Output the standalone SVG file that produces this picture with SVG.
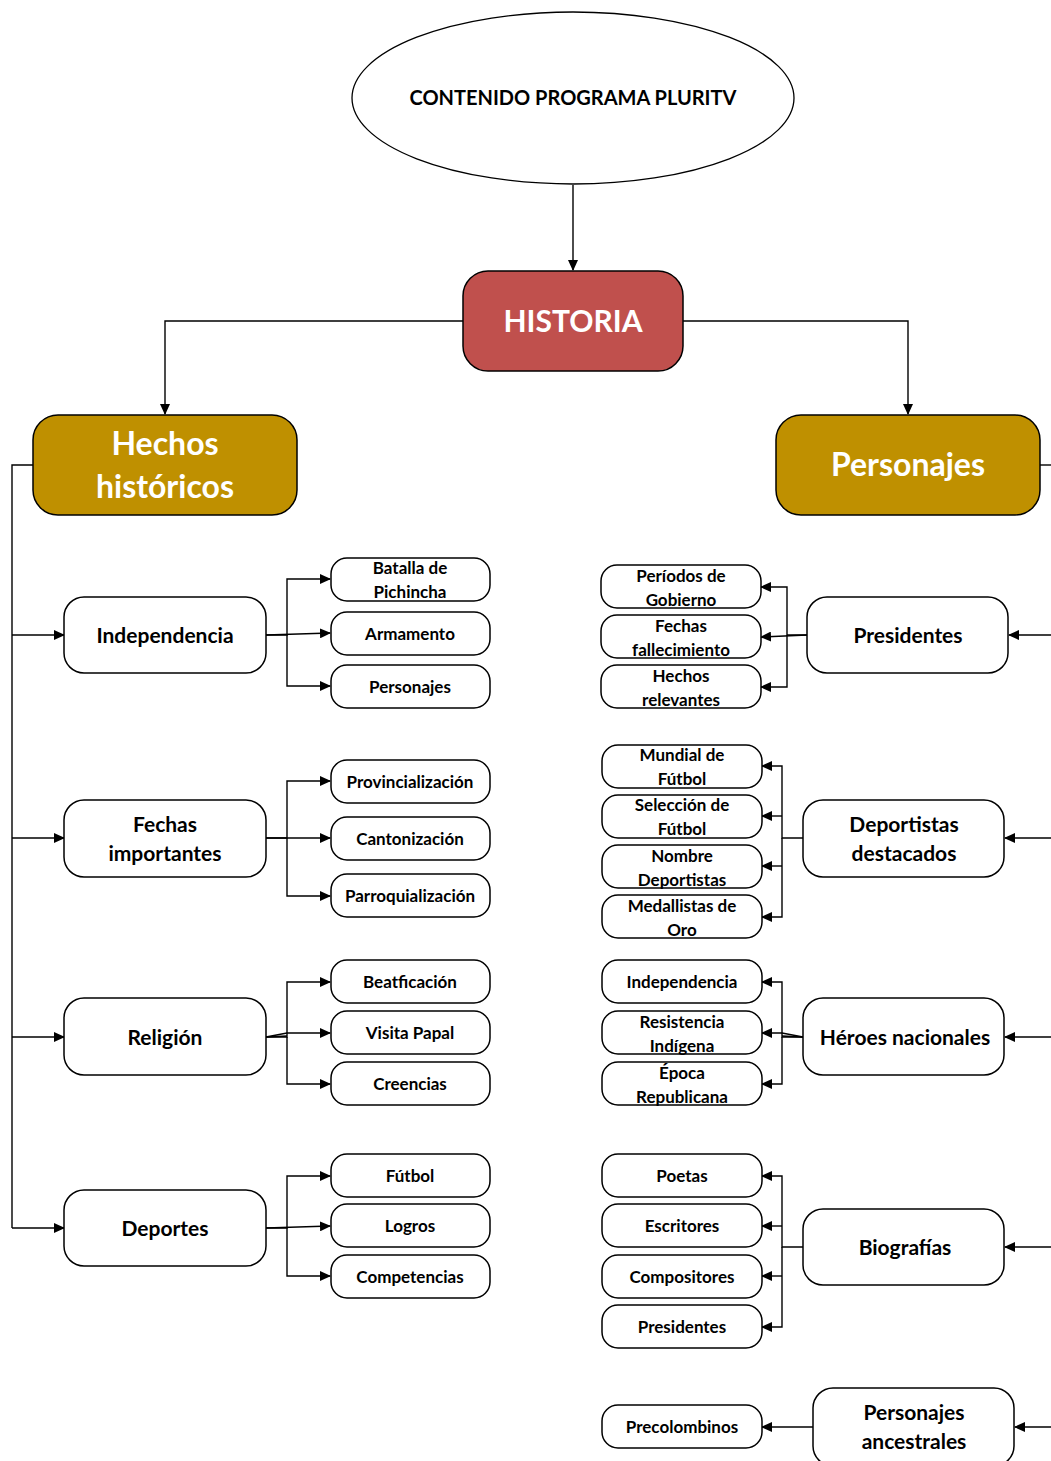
<svg xmlns="http://www.w3.org/2000/svg" width="1051" height="1461" viewBox="0 0 1051 1461">
<style>
text{font-family:"Lato","Open Sans",sans-serif;font-weight:bold;text-anchor:middle;fill:#000}
.node{fill:#fff;stroke:#000;stroke-width:1.5}
.red{fill:#C0504D;stroke:#000;stroke-width:1.5}
.gold{fill:#BF9000;stroke:#000;stroke-width:1.5}
.w{fill:#fff}
.big{font-size:32px}
.mid{font-size:21px}
.sm{font-size:17px}
.conn path{fill:none;stroke:#000;stroke-width:1.4}
.conn path.a{marker-end:url(#arr)}
</style>
<defs>
<marker id="arr" markerWidth="11" markerHeight="10" refX="10" refY="5" orient="auto" markerUnits="userSpaceOnUse">
<path d="M0,0 L11,5 L0,10 Z" fill="#000"/>
</marker>
</defs>
<rect width="1051" height="1461" fill="#fff"/>
<g class="conn">
<path class="a" d="M573,185 V270"/>
<path class="a" d="M463,321 H165 V414"/>
<path class="a" d="M683,321 H908 V414"/>
<path d="M1040,465 H1060"/>
<path d="M33,465 H12 V1228"/>
<path class="a" d="M12,635 H64"/>
<path class="a" d="M12,838 H64"/>
<path class="a" d="M12,1037 H64"/>
<path class="a" d="M12,1228 H64"/>
<path class="a" d="M266,635 H287 V579 H330"/>
<path class="a" d="M287,635 V686 H330"/>
<path class="a" d="M266,635 L330,633"/>
<path class="a" d="M266,838 H287 V781 H330"/>
<path class="a" d="M287,838 V896 H330"/>
<path class="a" d="M266,838 H330"/>
<path class="a" d="M266,1037 H287 V982 H330"/>
<path class="a" d="M287,1037 V1084 H330"/>
<path class="a" d="M266,1037 L287,1033 H330"/>
<path d="M266,1037 L287,1036"/>
<path class="a" d="M266,1228 H287 V1176 H330"/>
<path class="a" d="M287,1228 V1276 H330"/>
<path class="a" d="M266,1228 L330,1226"/>
<path class="a" d="M807,635 H787 V587 H761"/>
<path class="a" d="M787,635 V687 H761"/>
<path class="a" d="M807,635 L761,637"/>
<path class="a" d="M803,838 H782 V766 H762"/>
<path class="a" d="M782,838 V917 H762"/>
<path class="a" d="M782,816 H762"/>
<path class="a" d="M782,866 H762"/>
<path class="a" d="M803,1037 H782 V982 H762"/>
<path class="a" d="M782,1037 V1084 H762"/>
<path class="a" d="M803,1037 L782,1033 H762"/>
<path d="M803,1037 L782,1036"/>
<path class="a" d="M803,1247 H782 V1176 H762"/>
<path class="a" d="M782,1247 V1327 H762"/>
<path class="a" d="M782,1226 H762"/>
<path class="a" d="M782,1276 H762"/>
<path class="a" d="M813,1427 H762"/>
<path class="a" d="M1060,635 H1009"/>
<path class="a" d="M1060,838 H1005"/>
<path class="a" d="M1060,1037 H1005"/>
<path class="a" d="M1060,1247 H1005"/>
<path class="a" d="M1060,1427 H1015"/>
</g>
<g id="contenido"><ellipse cx="573" cy="98" rx="221" ry="86" fill="#fff" stroke="#000" stroke-width="1.3"/><text x="573" y="105" style="font-size:20px">CONTENIDO PROGRAMA PLURITV</text></g>
<g id="historia"><rect class="red" x="463" y="271" width="220" height="100" rx="25"/><text class="w" x="573" y="332" style="font-size:30px">HISTORIA</text></g>
<g id="hechos"><rect class="gold" x="33" y="415" width="264" height="100" rx="25"/><text class="big w" x="165" y="455">Hechos</text><text class="big w" x="165" y="498">históricos</text></g>
<g id="personajes"><rect class="gold" x="776" y="415" width="264" height="100" rx="25"/><text class="big w" x="908" y="476">Personajes</text></g>
<g id="independencia"><rect class="node" x="64" y="597" width="202" height="76" rx="20"/><text class="mid" x="165" y="643">Independencia</text></g>
<g id="fechas"><rect class="node" x="64" y="800" width="202" height="77" rx="20"/><text class="mid" x="165" y="832">Fechas</text><text class="mid" x="165" y="861">importantes</text></g>
<g id="religion"><rect class="node" x="64" y="998" width="202" height="77" rx="20"/><text class="mid" x="165" y="1045">Religión</text></g>
<g id="deportes"><rect class="node" x="64" y="1190" width="202" height="76" rx="20"/><text class="mid" x="165" y="1236">Deportes</text></g>
<g id="batalla"><rect class="node" x="331" y="558" width="159" height="43" rx="16"/><text class="sm" x="410" y="574">Batalla de</text><text class="sm" x="410" y="598">Pichincha</text></g>
<g id="armamento"><rect class="node" x="331" y="612" width="159" height="43" rx="16"/><text class="sm" x="410" y="640">Armamento</text></g>
<g id="personajes-ind"><rect class="node" x="331" y="665" width="159" height="43" rx="16"/><text class="sm" x="410" y="693">Personajes</text></g>
<g id="provincializacion"><rect class="node" x="331" y="760" width="159" height="43" rx="16"/><text class="sm" x="410" y="788">Provincialización</text></g>
<g id="cantonizacion"><rect class="node" x="331" y="817" width="159" height="43" rx="16"/><text class="sm" x="410" y="845">Cantonización</text></g>
<g id="parroquializacion"><rect class="node" x="331" y="874" width="159" height="43" rx="16"/><text class="sm" x="410" y="902">Parroquialización</text></g>
<g id="beatficacion"><rect class="node" x="331" y="960" width="159" height="43" rx="16"/><text class="sm" x="410" y="988">Beatficación</text></g>
<g id="visita"><rect class="node" x="331" y="1011" width="159" height="43" rx="16"/><text class="sm" x="410" y="1039">Visita Papal</text></g>
<g id="creencias"><rect class="node" x="331" y="1062" width="159" height="43" rx="16"/><text class="sm" x="410" y="1090">Creencias</text></g>
<g id="futbol"><rect class="node" x="331" y="1154" width="159" height="43" rx="16"/><text class="sm" x="410" y="1182">Fútbol</text></g>
<g id="logros"><rect class="node" x="331" y="1204" width="159" height="43" rx="16"/><text class="sm" x="410" y="1232">Logros</text></g>
<g id="competencias"><rect class="node" x="331" y="1255" width="159" height="43" rx="16"/><text class="sm" x="410" y="1283">Competencias</text></g>
<g id="presidentes"><rect class="node" x="807" y="597" width="201" height="76" rx="20"/><text class="mid" x="908" y="643">Presidentes</text></g>
<g id="deportistas"><rect class="node" x="803" y="800" width="201" height="77" rx="20"/><text class="mid" x="904" y="832">Deportistas</text><text class="mid" x="904" y="861">destacados</text></g>
<g id="heroes"><rect class="node" x="803" y="998" width="201" height="77" rx="20"/><text class="mid" x="905" y="1045">Héroes nacionales</text></g>
<g id="biografias"><rect class="node" x="803" y="1209" width="201" height="76" rx="20"/><text class="mid" x="905" y="1255">Biografías</text></g>
<g id="ancestrales"><rect class="node" x="813" y="1388" width="201" height="78" rx="20"/><text class="mid" x="914" y="1420">Personajes</text><text class="mid" x="914" y="1449">ancestrales</text></g>
<g id="periodos"><rect class="node" x="601" y="565" width="160" height="43" rx="16"/><text class="sm" x="681" y="582">Períodos de</text><text class="sm" x="681" y="606">Gobierno</text></g>
<g id="fechas-fall"><rect class="node" x="601" y="615" width="160" height="43" rx="16"/><text class="sm" x="681" y="632">Fechas</text><text class="sm" x="681" y="656">fallecimiento</text></g>
<g id="hechos-rel"><rect class="node" x="601" y="665" width="160" height="43" rx="16"/><text class="sm" x="681" y="682">Hechos</text><text class="sm" x="681" y="706">relevantes</text></g>
<g id="mundial"><rect class="node" x="602" y="745" width="160" height="43" rx="16"/><text class="sm" x="682" y="761">Mundial de</text><text class="sm" x="682" y="785">Fútbol</text></g>
<g id="seleccion"><rect class="node" x="602" y="795" width="160" height="43" rx="16"/><text class="sm" x="682" y="811">Selección de</text><text class="sm" x="682" y="835">Fútbol</text></g>
<g id="nombre"><rect class="node" x="602" y="845" width="160" height="43" rx="16"/><text class="sm" x="682" y="862">Nombre</text><text class="sm" x="682" y="886">Deportistas</text></g>
<g id="medallistas"><rect class="node" x="602" y="895" width="160" height="43" rx="16"/><text class="sm" x="682" y="912">Medallistas de</text><text class="sm" x="682" y="936">Oro</text></g>
<g id="independencia-h"><rect class="node" x="602" y="960" width="160" height="43" rx="16"/><text class="sm" x="682" y="988">Independencia</text></g>
<g id="resistencia"><rect class="node" x="602" y="1011" width="160" height="43" rx="16"/><text class="sm" x="682" y="1028">Resistencia</text><text class="sm" x="682" y="1052">Indígena</text></g>
<g id="epoca"><rect class="node" x="602" y="1062" width="160" height="43" rx="16"/><text class="sm" x="682" y="1079">Época</text><text class="sm" x="682" y="1103">Republicana</text></g>
<g id="poetas"><rect class="node" x="602" y="1154" width="160" height="43" rx="16"/><text class="sm" x="682" y="1182">Poetas</text></g>
<g id="escritores"><rect class="node" x="602" y="1204" width="160" height="43" rx="16"/><text class="sm" x="682" y="1232">Escritores</text></g>
<g id="compositores"><rect class="node" x="602" y="1255" width="160" height="43" rx="16"/><text class="sm" x="682" y="1283">Compositores</text></g>
<g id="presidentes-b"><rect class="node" x="602" y="1305" width="160" height="43" rx="16"/><text class="sm" x="682" y="1333">Presidentes</text></g>
<g id="precolombinos"><rect class="node" x="602" y="1405" width="160" height="43" rx="16"/><text class="sm" x="682" y="1433">Precolombinos</text></g>
</svg>
